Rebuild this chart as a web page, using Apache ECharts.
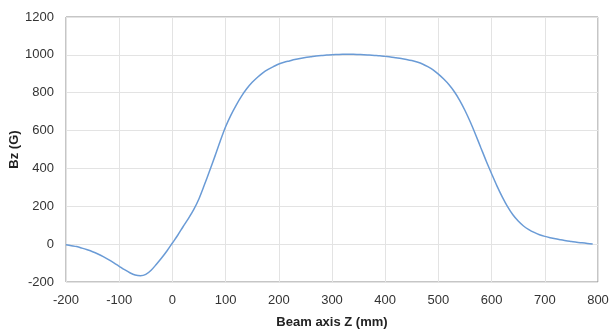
<!DOCTYPE html>
<html>
<head>
<meta charset="utf-8">
<script src="https://cdn.jsdelivr.net/npm/echarts@6/dist/echarts.min.js"></script>
<style>
  html, body { margin: 0; padding: 0; background: #fff; }
  #chart { width: 611px; height: 331px; }
</style>
</head>
<body>
<div id="chart"></div>
<script>
// Bz along the beam axis, every 10 mm
const zPos = [
  -200, -190, -180, -170, -160, -150, -140, -130, -120, -110,
  -100, -90, -80, -70, -60, -50, -40, -30, -20, -10,
  0, 10, 20, 30, 40, 50, 60, 70, 80, 90,
  100, 110, 120, 130, 140, 150, 160, 170, 180, 190,
  200, 210, 220, 230, 240, 250, 260, 270, 280, 290,
  300, 310, 320, 330, 340, 350, 360, 370, 380, 390,
  400, 410, 420, 430, 440, 450, 460, 470, 480, 490,
  500, 510, 520, 530, 540, 550, 560, 570, 580, 590,
  600, 610, 620, 630, 640, 650, 660, 670, 680, 690,
  700, 710, 720, 730, 740, 750, 760, 770, 780, 790
];
const bzValues = [
  -3, -8, -13, -21, -30, -40, -52, -66, -82, -99,
  -117, -135, -151, -163, -167, -160, -138, -106, -72, -35,
  6, 47, 92, 135, 182, 240, 312, 388, 465, 545,
  620, 682, 735, 782, 822, 855, 882, 905, 923, 938,
  952, 961, 968, 975, 981, 986, 990, 994, 997, 999,
  1001, 1002, 1003, 1003, 1003, 1002, 1001, 999, 997, 995,
  992, 989, 985, 981, 976, 970, 962, 952, 938, 921,
  898, 872, 842, 805, 760, 706, 645, 578, 508, 438,
  372, 308, 250, 198, 155, 122, 96, 77, 62, 50,
  41, 34, 28, 23, 18, 14, 10, 7, 4, 1
];

const xTicks = [-200, -100, 0, 100, 200, 300, 400, 500, 600, 700, 800];
const yTicks = [-200, 0, 200, 400, 600, 800, 1000, 1200];

const chart = echarts.init(document.getElementById("chart"));

const font = "Liberation Sans, Arial, sans-serif";
const labelStyle = {color: "#333", fontSize: 13, fontFamily: font, formatter: v => String(v)};

chart.setOption({
  animation: false,
  grid: {
    left: 66, right: 13, top: 17, bottom: 49,
    containLabel: false,
    outerBoundsMode: "none",
    show: true, borderColor: "#8c8c8c", borderWidth: 1
  },
  xAxis: {
    type: "value",
    min: xTicks[0],
    max: xTicks[xTicks.length - 1],
    interval: 100,
    name: "Beam axis Z (mm)",
    nameLocation: "middle",
    nameGap: 34,
    nameTextStyle: {color: "#222", fontSize: 13, fontWeight: "bold", fontFamily: font},
    axisLine: {show: false},
    axisTick: {show: false},
    axisLabel: Object.assign({margin: 12}, labelStyle),
    splitLine: {lineStyle: {color: "#e3e3e3"}}
  },
  yAxis: {
    type: "value",
    min: yTicks[0],
    max: yTicks[yTicks.length - 1],
    interval: 200,
    name: "Bz (G)",
    nameLocation: "middle",
    nameGap: 45,
    nameMoveOverlap: false,
    nameTextStyle: {color: "#222", fontSize: 13, fontWeight: "bold", fontFamily: font},
    axisLine: {show: false},
    axisTick: {show: false},
    axisLabel: Object.assign({margin: 12}, labelStyle),
    splitLine: {lineStyle: {color: "#e3e3e3"}}
  },
  series: [
    {
      type: "line",
      data: zPos.map((z, i) => [z, bzValues[i]]),
      smooth: 0.3,
      showSymbol: false,
      lineStyle: {color: "#6a9bd6", width: 1.5}
    }
  ]
});
</script>
</body>
</html>
